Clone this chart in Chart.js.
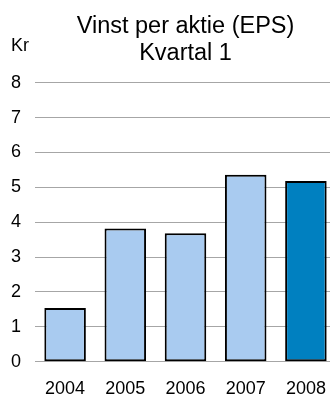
<!DOCTYPE html>
<html>
<head>
<meta charset="utf-8">
<script src="https://cdn.jsdelivr.net/npm/chart.js@4/dist/chart.umd.min.js"></script>
<style>
  html, body { margin: 0; padding: 0; background: #fff; overflow: hidden; }
  /* the plot runs a few pixels past the right edge of the window */
  #wrap { width: 336px; height: 396px; overflow: hidden; }
</style>
</head>
<body>
<div id="wrap"><canvas id="c" width="336" height="396"></canvas></div>
<script>
// Earnings per share, first quarter of each year (SEK)
const years = ['2004', '2005', '2006', '2007', '2008'];
const eps = [1.54, 3.82, 3.68, 5.36, 5.18];
const yTicks = [0, 1, 2, 3, 4, 5, 6, 7, 8];
const titleLines = ['Vinst per aktie (EPS)', 'Kvartal 1'];
const unitLabel = 'Kr';

const FONT = "'Liberation Sans', Arial, Helvetica, sans-serif";
const LIGHT = '#a9cbf0';
const DARK = '#0080c0';

// The latest year is highlighted in the darker blue
const fills = years.map((y, i) => i === years.length - 1 ? DARK : LIGHT);

const unitPlugin = {
  id: 'unitLabel',
  afterDraw(chart) {
    const ctx = chart.ctx;
    ctx.save();
    ctx.font = '18px ' + FONT;
    ctx.fillStyle = '#000';
    ctx.textAlign = 'left';
    ctx.textBaseline = 'alphabetic';
    ctx.fillText(unitLabel, 11, 50.5);
    ctx.restore();
  }
};

new Chart(document.getElementById('c'), {
  type: 'bar',
  data: {
    labels: years,
    datasets: [{
      data: eps,
      backgroundColor: fills,
      borderColor: '#000',
      borderWidth: 2,
      borderSkipped: false,
      categoryPercentage: 1,
      barPercentage: 0.69
    }]
  },
  options: {
    responsive: false,
    animation: false,
    devicePixelRatio: 1,
    layout: { padding: 0 },
    plugins: {
      legend: { display: false },
      tooltip: { enabled: false },
      title: {
        display: true,
        text: titleLines,
        fullSize: false,
        color: '#000',
        font: { family: FONT, size: 23.5, weight: 'normal', lineHeight: 1.136 },
        padding: { top: 13.5, bottom: 15.8 }
      }
    },
    scales: {
      x: {
        grid: { display: false, drawTicks: false },
        border: { display: false },
        ticks: { color: '#000', font: { family: FONT, size: 18 }, padding: 17 },
        afterFit(scale) {
          scale.height = 34.3;
          // labels sit inside their categories, no side padding needed
          scale.paddingLeft = 0;
          scale.paddingRight = 0;
        }
      },
      y: {
        min: 0,
        max: 8,
        afterBuildTicks(scale) { scale.ticks = yTicks.map(v => ({ value: v })); },
        grid: { color: '#a6a6a6', lineWidth: 1, drawTicks: false },
        border: { display: false },
        ticks: { color: '#000', font: { family: FONT, size: 18 }, padding: 14 },
        afterFit(scale) { scale.width = 35; }
      }
    }
  },
  plugins: [unitPlugin]
});
</script>
</body>
</html>
